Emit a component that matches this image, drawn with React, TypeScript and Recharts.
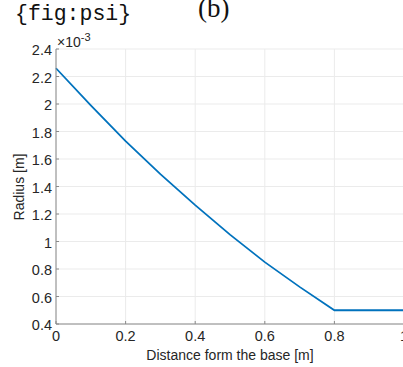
import React from 'react'
import { LineChart, Line, XAxis, YAxis, CartesianGrid } from 'recharts'

// distance from the base [m] and radius [x 1e-3 m]
const distance = [0, 0.1, 0.2, 0.3, 0.4, 0.5, 0.6, 0.7, 0.8, 0.9, 1.0]
const radius = [2.26, 1.99, 1.73, 1.49, 1.265, 1.05, 0.85, 0.67, 0.5, 0.5, 0.5]

const xTicks = [0, 0.2, 0.4, 0.6, 0.8, 1]
const yTicks = [0.4, 0.6, 0.8, 1, 1.2, 1.4, 1.6, 1.8, 2, 2.2, 2.4]

const data = distance.map((d, i) => ({ d, r: radius[i] }))

const AXIS = '#8a8a8a'
const TEXT = '#262626'
const FONT = '"Liberation Sans", Arial, sans-serif'
const fmt = (v: number) => String(Number(v.toFixed(1)))

function BottomTick(props: any) {
  const { x, y, payload } = props
  return (
    <g>
      <line x1={x} y1={y} x2={x} y2={y - 3} stroke={AXIS} />
      <text x={x} y={y + 17} textAnchor="middle" fontSize={14.5} fontFamily={FONT} fill={TEXT}>
        {fmt(payload.value)}
      </text>
    </g>
  )
}

function TopTick(props: any) {
  const { x, y } = props
  return <line x1={x} y1={y} x2={x} y2={y + 3} stroke={AXIS} />
}

function LeftTick(props: any) {
  const { x, y, payload } = props
  return (
    <g>
      <line x1={x} y1={y} x2={x + 3} y2={y} stroke={AXIS} />
      <text x={x - 4} y={y + 6} textAnchor="end" fontSize={14.5} fontFamily={FONT} fill={TEXT}>
        {fmt(payload.value)}
      </text>
    </g>
  )
}

export default function App() {
  return (
    <div style={{ position: 'fixed', left: 0, top: 0, width: 403, height: 367, overflow: 'hidden', background: '#fff' }}>
      <LineChart width={420} height={367} data={data} margin={{ top: 49, right: 16, left: 0, bottom: 0 }}>
        <CartesianGrid stroke="#ebebeb" horizontalValues={yTicks} verticalValues={xTicks} />
        <XAxis
          dataKey="d"
          type="number"
          domain={[0, 1]}
          ticks={xTicks}
          interval={0}
          height={43}
          tickSize={0}
          tickMargin={0}
          tick={<BottomTick />}
          axisLine={{ stroke: AXIS }}
        />
        <XAxis
          xAxisId="top"
          orientation="top"
          type="number"
          domain={[0, 1]}
          ticks={xTicks}
          interval={0}
          height={0}
          tickSize={0}
          tickMargin={0}
          tick={<TopTick />}
          axisLine={{ stroke: AXIS }}
        />
        <YAxis
          type="number"
          domain={[0.4, 2.4]}
          ticks={yTicks}
          interval={0}
          width={56}
          tickSize={0}
          tickMargin={0}
          tick={<LeftTick />}
          axisLine={{ stroke: AXIS }}
        />
        <Line
          type="linear"
          dataKey="r"
          stroke="#0072BD"
          strokeWidth={1.8}
          dot={false}
          isAnimationActive={false}
        />
      </LineChart>
      <svg width={403} height={367} style={{ position: 'absolute', left: 0, top: 0, pointerEvents: 'none' }}>
        <text x={15} y={20} fontSize={21.5} fontFamily='"Liberation Mono", monospace' fill="#111">
          {'{fig:psi}'}
        </text>
        <text x={198} y={17} fontSize={27} fontFamily='"Liberation Serif", serif' fill="#111">
          (b)
        </text>
        <text x={57} y={47} fontSize={14} fontFamily={FONT} fill={TEXT}>
          ×10
          <tspan dy={-6} fontSize={11}>-3</tspan>
        </text>
        <text
          x={24}
          y={187}
          transform="rotate(-90 24 187)"
          textAnchor="middle"
          fontSize={14}
          fontFamily={FONT}
          fill={TEXT}
        >
          Radius [m]
        </text>
        <text x={230} y={360} textAnchor="middle" fontSize={14} fontFamily={FONT} fill={TEXT}>
          Distance form the base [m]
        </text>
      </svg>
    </div>
  )
}
